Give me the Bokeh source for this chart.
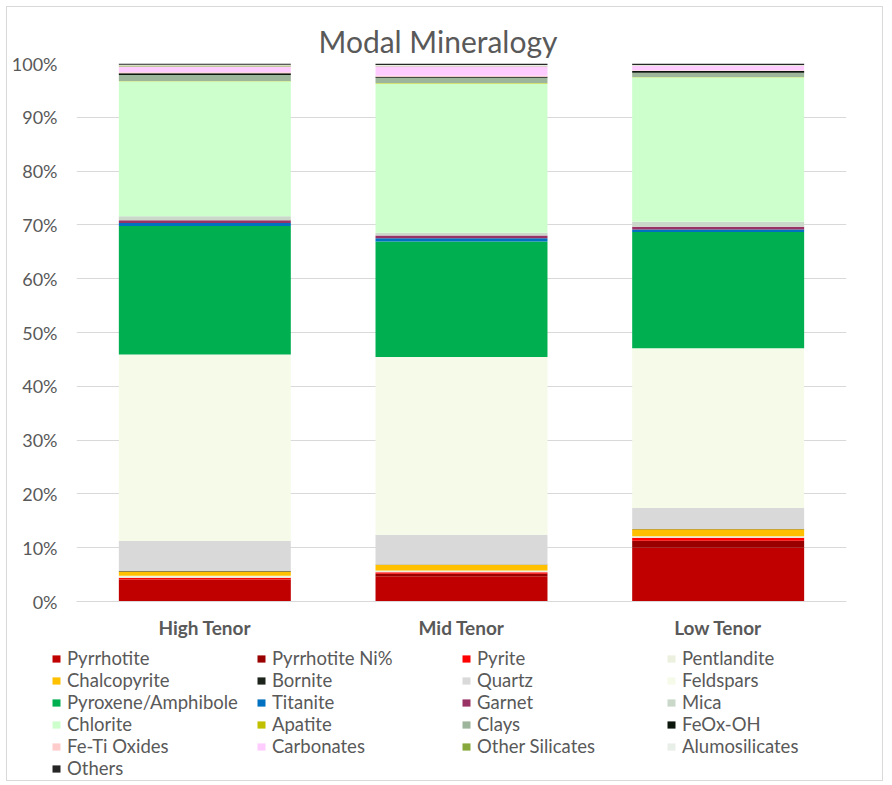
from bokeh.plotting import figure
from bokeh.layouts import column, row
from bokeh.models import (FactorRange, Range1d, NumeralTickFormatter, Legend, LegendItem,
                          FixedTicker, ColumnDataSource)
from bokeh.embed import file_html
from bokeh.resources import INLINE

categories = ["High Tenor", "Mid Tenor", "Low Tenor"]

minerals = ["Pyrrhotite", "Pyrrhotite Ni%", "Pyrite", "Pentlandite", "Chalcopyrite", "Bornite",
            "Quartz", "Feldspars", "Pyroxene/Amphibole", "Titanite", "Garnet", "Mica",
            "Chlorite", "Apatite", "Clays", "FeOx-OH", "Fe-Ti Oxides", "Carbonates",
            "Other Silicates", "Alumosilicates", "Others"]

colors = ["#C00000", "#990000", "#FF0000", "#EBF1DE", "#FFC000", "#1C241C",
          "#D9D9D9", "#F6FBE9", "#00B050", "#0070C0", "#993366", "#CAD8CA",
          "#CCFFCC", "#C0C000", "#9DB59A", "#0D160D", "#FFCCCC", "#FFCCFF",
          "#86A83C", "#E8EFE8", "#262626"]

high_tenor = [4.0, 0.1, 0.3, 0.4, 0.8, 0.05, 5.6, 34.7, 23.9, 0.55, 0.5, 0.75,
              25.1, 0.05, 1.1, 0.35, 0.15, 1.1, 0.2, 0.1, 0.25]
mid_tenor = [4.7, 0.45, 0.3, 0.3, 1.1, 0.05, 5.5, 33.1, 21.5, 0.6, 0.5, 0.5,
             27.8, 0.05, 1.0, 0.2, 0.15, 1.8, 0.1, 0.1, 0.3]
low_tenor = [10.0, 1.3, 0.55, 0.3, 1.3, 0.05, 3.9, 29.7, 21.6, 0.5, 0.5, 0.9,
             26.9, 0.05, 0.8, 0.3, 0.1, 0.9, 0.05, 0.05, 0.3]

y_ticks = [0, 0.1, 0.2, 0.3, 0.4, 0.5, 0.6, 0.7, 0.8, 0.9, 1.0]

series = [high_tenor, mid_tenor, low_tenor]
totals = [sum(s) for s in series]
data = {"cat": categories}
for i, m in enumerate(minerals):
    data[m] = [series[j][i] / totals[j] for j in range(3)]
source = ColumnDataSource(data)

GRAY = "#595959"
FONT = "Lato"

p = figure(x_range=FactorRange(*categories), y_range=Range1d(0, 1),
           frame_width=770, frame_height=538,
           min_border_left=69, min_border_right=36, min_border_top=56, min_border_bottom=42,
           output_backend="svg", toolbar_location=None, title="Modal Mineralogy")

p.vbar_stack(minerals, x="cat", width=0.67, color=colors, line_width=0, source=source)

p.title.align = "left"
p.title.offset = 242
p.title.text_font = FONT
p.title.text_font_size = "30px"
p.title.text_font_style = "normal"
p.title.text_color = GRAY

p.outline_line_color = None
p.xgrid.grid_line_color = None
p.ygrid.grid_line_color = "#D9D9D9"
p.ygrid.grid_line_width = 1

p.yaxis.ticker = FixedTicker(ticks=y_ticks)
p.yaxis.formatter = NumeralTickFormatter(format="0%")
p.yaxis.axis_line_color = None
p.yaxis.major_tick_line_color = None
p.yaxis.minor_tick_line_color = None
p.yaxis.major_tick_out = 0
p.yaxis.major_tick_in = 0
p.yaxis.minor_tick_out = 0
p.yaxis.major_label_text_font = FONT
p.yaxis.major_label_text_font_size = "18px"
p.yaxis.major_label_text_color = GRAY
p.yaxis.major_label_standoff = 19

p.xaxis.axis_line_color = "#D9D9D9"
p.xaxis.major_tick_line_color = None
p.xaxis.minor_tick_line_color = None
p.xaxis.major_tick_out = 0
p.xaxis.major_tick_in = 0
p.xaxis.major_label_text_font = FONT
p.xaxis.major_label_text_font_size = "19px"
p.xaxis.major_label_text_font_style = "bold"
p.xaxis.major_label_text_color = GRAY
p.xaxis.major_label_standoff = 14

# Legend panel: same stacked bars, drawn outside its visible range, only to feed the legend
pl = figure(x_range=FactorRange(*categories), y_range=Range1d(10, 11),
            width=875, height=137, min_border=0,
            x_axis_location=None, y_axis_location=None,
            output_backend="svg", toolbar_location=None)
pl.grid.visible = False
pl.outline_line_color = None
leg_renderers = pl.vbar_stack(minerals, x="cat", width=0.67, color=colors, line_width=0,
                              source=source)
blank = pl.vbar(x=["High Tenor"], top=[10.5], bottom=[10.4], width=0.1,
                fill_alpha=0, line_alpha=0)

# the legend fills column by column: arrange items so it reads row by row
ncols, nrows = 4, 6
ordered = []
for c in range(ncols):
    for r in range(nrows):
        k = r * ncols + c
        if k < len(minerals):
            ordered.append(LegendItem(label=minerals[k], renderers=[leg_renderers[k]]))
        else:
            ordered.append(LegendItem(label=" ", renderers=[blank]))

legend = Legend(items=ordered, ncols=ncols, location=(44, 1),
                padding=0, margin=0, spacing=0,
                glyph_width=10, glyph_height=9, label_standoff=6,
                label_width=189, label_height=22,
                label_text_font=FONT, label_text_font_size="18.5px",
                label_text_color=GRAY,
                border_line_color=None, background_fill_alpha=0)
pl.add_layout(legend, "center")

layout = column(p, row(pl), spacing=0,
                styles={"margin-left": "6px", "margin-top": "6px",
                        "border": "1px solid #D9D9D9"})

open("out.html", "w").write(file_html(layout, INLINE))
